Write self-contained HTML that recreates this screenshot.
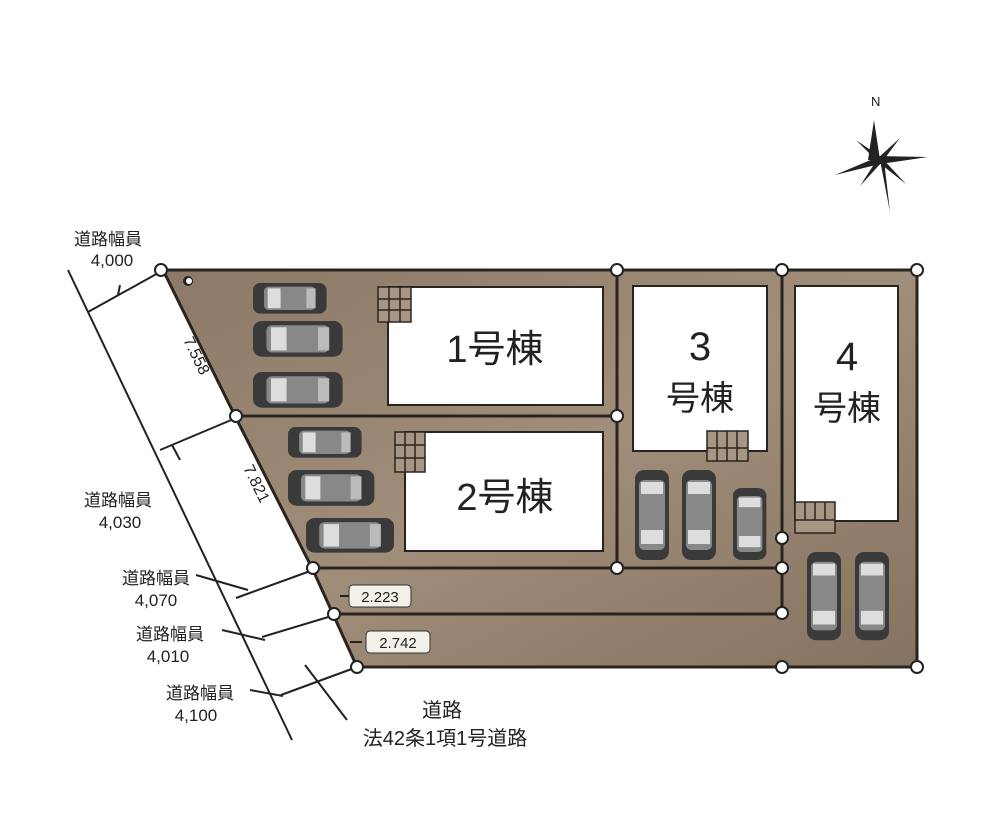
<!DOCTYPE html>
<html><head><meta charset="utf-8"><style>
body{margin:0;background:#fff;}
text{font-family:"Liberation Sans","Noto Sans CJK JP",sans-serif;fill:#222;}
</style></head><body>
<svg width="1000" height="808" viewBox="0 0 1000 808" xmlns="http://www.w3.org/2000/svg">
<defs>
<linearGradient id="g" x1="0" y1="0" x2="1" y2="1">
<stop offset="0" stop-color="#8c7a66"/><stop offset="0.5" stop-color="#a08e7a"/><stop offset="1" stop-color="#857360"/>
</linearGradient>
<g id="carh">
<rect x="0" y="0" width="80" height="34" rx="8" fill="#3a3a3a"/>
<rect x="12" y="4" width="56" height="26" rx="5" fill="#888"/>
<rect x="16" y="6" width="14" height="22" fill="#ddd"/>
<rect x="58" y="6" width="10" height="22" fill="#bbb"/>
</g>
<g id="carv">
<rect x="0" y="0" width="34" height="90" rx="9" fill="#3a3a3a"/>
<rect x="4" y="10" width="26" height="70" rx="5" fill="#888"/>
<rect x="6" y="12" width="22" height="12" fill="#ddd"/>
<rect x="6" y="60" width="22" height="14" fill="#ddd"/>
</g>
</defs>
<!-- lot -->
<polygon points="163,270 917,270 917,667 357,667 313,570 236,418" fill="url(#g)" stroke="#2a2420" stroke-width="3"/>
<g stroke="#2a2420" stroke-width="3" fill="none">
<line x1="236" y1="416" x2="617" y2="416"/>
<line x1="617" y1="270" x2="617" y2="568"/>
<line x1="313" y1="568" x2="782" y2="568"/>
<line x1="335" y1="614" x2="782" y2="614"/>
<line x1="782" y1="270" x2="782" y2="614"/>
</g>
<!-- houses -->
<g fill="#fff" stroke="#2a2420" stroke-width="2">
<rect x="388" y="287" width="215" height="118"/>
<rect x="405" y="432" width="198" height="119"/>
<rect x="633" y="286" width="134" height="165"/>
<rect x="795" y="286" width="103" height="235"/>
</g>
<!-- meters -->
<g fill="#a89684" stroke="#2a2420" stroke-width="1.5">
<rect x="378" y="287" width="33" height="35"/><line x1="389" y1="287" x2="389" y2="322"/><line x1="400" y1="287" x2="400" y2="322"/><line x1="378" y1="299" x2="411" y2="299"/><line x1="378" y1="310" x2="411" y2="310"/>
<rect x="395" y="432" width="30" height="40"/><line x1="405" y1="432" x2="405" y2="472"/><line x1="415" y1="432" x2="415" y2="472"/><line x1="395" y1="445" x2="425" y2="445"/><line x1="395" y1="458" x2="425" y2="458"/>
<rect x="707" y="431" width="41" height="30"/><line x1="717" y1="431" x2="717" y2="461"/><line x1="727" y1="431" x2="727" y2="461"/><line x1="737" y1="431" x2="737" y2="461"/><line x1="707" y1="448" x2="748" y2="448"/>
<rect x="795" y="502" width="40" height="31"/><line x1="805" y1="502" x2="805" y2="520"/><line x1="815" y1="502" x2="815" y2="520"/><line x1="825" y1="502" x2="825" y2="520"/><line x1="795" y1="520" x2="835" y2="520"/>
</g>
<!-- cars -->
<use href="#carh" transform="translate(253,283) scale(0.92,0.9)"/>
<use href="#carh" transform="translate(253,321) scale(1.12,1.05)"/>
<use href="#carh" transform="translate(253,372) scale(1.12,1.05)"/>
<use href="#carh" transform="translate(288,427) scale(0.92,0.9)"/>
<use href="#carh" transform="translate(288,470) scale(1.08,1.05)"/>
<use href="#carh" transform="translate(306,518) scale(1.1,1.02)"/>
<use href="#carv" transform="translate(635,470)"/>
<use href="#carv" transform="translate(682,470)"/>
<use href="#carv" transform="translate(733,488) scale(0.98,0.8)"/>
<use href="#carv" transform="translate(807,552) scale(1,0.98)"/>
<use href="#carv" transform="translate(855,552) scale(1,0.98)"/>
<!-- labels in houses -->
<text x="495" y="362" font-size="38" text-anchor="middle">1号棟</text>
<text x="505" y="510" font-size="38" text-anchor="middle">2号棟</text>
<text x="700" y="360" font-size="40" text-anchor="middle">3</text>
<text x="700" y="410" font-size="34" text-anchor="middle">号棟</text>
<text x="847" y="370" font-size="40" text-anchor="middle">4</text>
<text x="847" y="420" font-size="34" text-anchor="middle">号棟</text>
<!-- road lines -->
<g stroke="#222" stroke-width="2" fill="none">
<line x1="68" y1="270" x2="292" y2="740"/>
<line x1="88" y1="312" x2="160" y2="272"/>
<line x1="120" y1="285" x2="118" y2="295"/>
<line x1="160" y1="450" x2="236" y2="418"/>
<line x1="172" y1="445" x2="180" y2="460"/>
<line x1="236" y1="598" x2="313" y2="570"/>
<line x1="196" y1="575" x2="248" y2="590"/>
<line x1="262" y1="637" x2="335" y2="615"/>
<line x1="222" y1="630" x2="265" y2="640"/>
<line x1="281" y1="695" x2="357" y2="667"/>
<line x1="250" y1="690" x2="283" y2="696"/>
<line x1="305" y1="665" x2="347" y2="720"/>
<line x1="340" y1="596" x2="352" y2="596"/>
<line x1="350" y1="642" x2="362" y2="642"/>
</g>
<!-- nodes -->
<g fill="#fff" stroke="#222" stroke-width="2">
<circle cx="161" cy="270" r="6"/><circle cx="236" cy="416" r="6"/><circle cx="313" cy="568" r="6"/><circle cx="334" cy="614" r="6"/><circle cx="357" cy="667" r="6"/>
<circle cx="617" cy="270" r="6"/><circle cx="617" cy="416" r="6"/><circle cx="617" cy="568" r="6"/>
<circle cx="782" cy="270" r="6"/><circle cx="782" cy="538" r="6"/><circle cx="782" cy="568" r="6"/><circle cx="782" cy="613" r="6"/><circle cx="782" cy="667" r="6"/>
<circle cx="917" cy="270" r="6"/><circle cx="917" cy="667" r="6"/>
</g>
<circle cx="188" cy="281" r="5" fill="#222"/><circle cx="189" cy="281" r="3" fill="#fff"/>
<!-- dim labels -->
<rect x="349" y="585" width="62" height="22" rx="4" fill="#f4f0ea" stroke="#333"/>
<text x="380" y="602" font-size="15" text-anchor="middle">2.223</text>
<rect x="366" y="631" width="64" height="22" rx="4" fill="#f4f0ea" stroke="#333"/>
<text x="398" y="648" font-size="15" text-anchor="middle">2.742</text>
<text x="183" y="340" font-size="16" transform="rotate(64 183 340)">7.558</text>
<text x="243" y="468" font-size="16" transform="rotate(64 243 468)">7.821</text>
<g font-size="17" text-anchor="middle">
<text x="108" y="245">道路幅員</text><text x="112" y="266">4,000</text>
<text x="118" y="506">道路幅員</text><text x="120" y="528">4,030</text>
<text x="156" y="584">道路幅員</text><text x="156" y="606">4,070</text>
<text x="170" y="640">道路幅員</text><text x="168" y="662">4,010</text>
<text x="200" y="699">道路幅員</text><text x="196" y="721">4,100</text>
<text x="442" y="717" font-size="20">道路</text>
<text x="445" y="745" font-size="20">法42条1項1号道路</text>
</g>
<!-- compass -->
<text x="871" y="106" font-size="13" font-family="Liberation Serif">N</text>
<g fill="#222">
<polygon points="874,120 880,160 868,160"/>
<polygon points="890,212 880,160 884,160"/>
<polygon points="835,175 880,156 880,164"/>
<polygon points="928,157 880,164 880,156"/>
<polygon points="856,140 882,158 878,162"/>
<polygon points="906,184 878,162 882,158"/>
<polygon points="900,138 882,162 878,158"/>
<polygon points="860,186 878,158 882,162"/>
</g>
</svg>
</body></html>
